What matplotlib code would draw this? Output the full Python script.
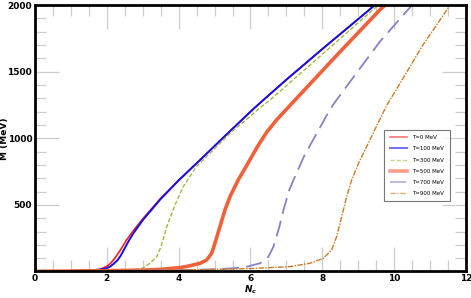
import numpy as np
import matplotlib
matplotlib.use('Agg')
import matplotlib.pyplot as plt
from matplotlib.ticker import MultipleLocator, FixedLocator
from matplotlib.lines import Line2D

plt.rcParams['mathtext.fontset'] = 'custom'
plt.rcParams['mathtext.it'] = 'DejaVu Sans:italic:bold'

# values (Nc, M in MeV)
nc_t0 = [0, 1.0, 1.5, 1.8, 2.0, 2.1, 2.2, 2.3, 2.4, 2.55, 2.75, 3.0, 3.5, 4.0, 4.6, 5.3, 6.08, 7.0, 8.0, 9.0, 9.42, 9.6]
m_t0 = [2, 4, 8, 15, 38, 60, 92, 130, 170, 237, 310, 395, 550, 682, 838, 1020, 1220, 1440, 1670, 1895, 1990, 2030]

nc_t100 = [0, 1.0, 1.5, 1.8, 2.0, 2.09, 2.2, 2.3, 2.4, 2.5, 2.6, 2.74, 3.0, 3.48, 4.0, 4.6, 5.3, 6.08, 6.41, 7.0, 8.0, 9.0, 9.42, 9.6]
m_t100 = [2, 4, 8, 14, 25, 36, 60, 85, 125, 175, 225, 287, 385, 538, 685, 838, 1020, 1220, 1300, 1440, 1670, 1895, 1990, 2030]

nc_t300 = [0, 1, 2, 2.5, 2.8, 3.0, 3.2, 3.39, 3.5, 3.6, 3.67, 3.8, 3.9, 4.13, 4.5, 5.06, 5.5, 5.99, 6.22, 6.55, 7.5, 8.5, 9.52, 9.7]
m_t300 = [1, 3, 6, 10, 15, 25, 62, 111, 180, 270, 337, 430, 500, 638, 790, 938, 1055, 1164, 1220, 1289, 1513, 1749, 1990, 2030]

nc_t500 = [0, 1, 2, 3, 3.5, 4.04, 4.3, 4.6, 4.78, 4.92, 5.01, 5.15, 5.29, 5.43, 5.66, 5.85, 6.2, 6.45, 6.73, 7.01, 7.5, 8.5, 9.61, 9.75, 9.85]
m_t500 = [1, 3, 6, 10, 16, 29, 42, 62, 86, 137, 212, 337, 462, 562, 688, 775, 940, 1045, 1139, 1220, 1362, 1651, 1966, 2000, 2030]

nc_t700 = [0, 2, 4, 5, 5.52, 5.9, 6.27, 6.5, 6.64, 6.78, 6.92, 7.08, 7.2, 7.5, 7.85, 8.22, 8.4, 9.0, 9.61, 10.5, 10.6]
m_t700 = [1, 4, 10, 16, 24, 36, 62, 111, 186, 312, 462, 613, 688, 870, 1039, 1220, 1289, 1507, 1728, 2000, 2030]

nc_t900 = [0, 2, 4, 6, 7.1, 7.66, 8.03, 8.26, 8.4, 8.54, 8.68, 8.82, 9.01, 9.19, 9.5, 9.8, 10.07, 10.8, 11.56, 11.65]
m_t900 = [1, 4, 10, 22, 36, 62, 99, 162, 262, 412, 562, 688, 813, 913, 1085, 1250, 1370, 1700, 2000, 2030]

labels = ['T=0 MeV', 'T=100 MeV', 'T=300 MeV', 'T=500 MeV', 'T=700 MeV', 'T=900 MeV']

fig = plt.figure(figsize=(4.71, 2.98), dpi=100)
ax = fig.add_axes([0.0743, 0.089, 0.915, 0.894])

styles = [
    dict(color='#ff1a1a', lw=1.2, ls='-'),
    dict(color='#1010f0', lw=1.4, ls='-'),
    dict(color='#9bbb3c', lw=1.0, ls=(0, (3, 1.5))),
    dict(color='#f2603a', lw=2.6, ls='-'),
    dict(color='#8a80c8', lw=1.3, ls=(0, (9, 4))),
    dict(color='#cf7a22', lw=1.0, ls=(0, (4, 1, 1, 1))),
]
series = [(nc_t0, m_t0), (nc_t100, m_t100), (nc_t300, m_t300),
          (nc_t500, m_t500), (nc_t700, m_t700), (nc_t900, m_t900)]

for (x, y), st in zip(series, styles):
    ax.plot(x, y, solid_joinstyle='round', **st)

ax.set_xlim(0, 12)
ax.set_ylim(0, 2000)
ax.xaxis.set_major_locator(MultipleLocator(2))
ax.xaxis.set_minor_locator(MultipleLocator(0.5))
ax.yaxis.set_major_locator(FixedLocator([500, 1000, 1500, 2000]))
ax.yaxis.set_minor_locator(MultipleLocator(100))
ax.tick_params(which='both', direction='in', top=True, right=True, color='#cccccc', width=0.9, pad=2)
ax.tick_params(which='major', length=17, labelsize=6.5)
ax.tick_params(which='minor', length=8)
for lab in ax.get_xticklabels() + ax.get_yticklabels():
    lab.set_fontweight('bold')
for sp in ax.spines.values():
    sp.set_linewidth(2.0)
    sp.set_color('black')

ax.set_ylabel('M (MeV)', fontsize=6.5, fontweight='bold')
ax.yaxis.set_label_coords(-0.061, 0.5)
ax.set_xlabel('$N_c$', fontsize=6.5)
ax.xaxis.set_label_coords(0.5, -0.045)

handles = [Line2D([], [], alpha=0.6, **st) for st in styles]
leg = ax.legend(handles, labels, loc='upper left', bbox_to_anchor=(0.81, 0.532),
                fontsize=4.0, frameon=True, fancybox=False, handlelength=3.2,
                borderpad=1.0, labelspacing=1.1, handletextpad=0.9, borderaxespad=0)
leg.get_frame().set_edgecolor('#555555')
leg.get_frame().set_linewidth(0.8)

fig.savefig('out.png', dpi=100)
